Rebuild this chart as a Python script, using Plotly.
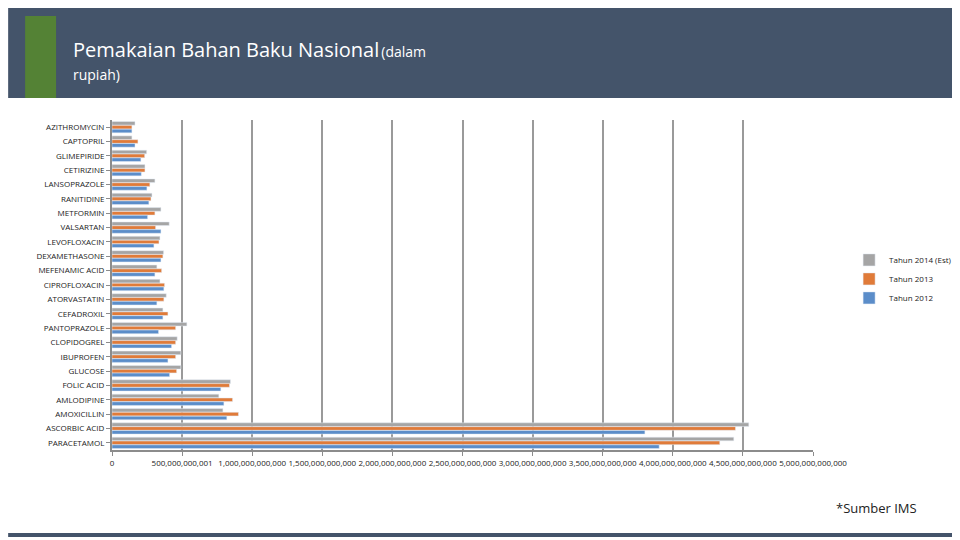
import plotly.graph_objects as go

categories = ["AZITHROMYCIN","CAPTOPRIL","GLIMEPIRIDE","CETIRIZINE","LANSOPRAZOLE","RANITIDINE",
              "METFORMIN","VALSARTAN","LEVOFLOXACIN","DEXAMETHASONE","MEFENAMIC ACID","CIPROFLOXACIN",
              "ATORVASTATIN","CEFADROXIL","PANTOPRAZOLE","CLOPIDOGREL","IBUPROFEN","GLUCOSE",
              "FOLIC ACID","AMLODIPINE","AMOXICILLIN","ASCORBIC ACID","PARACETAMOL"]
# values in billions of rupiah
tahun_2014 = [164,142,247,235,306,285,349,408,342,368,320,342,387,363,534,465,491,491,845,762,791,4542,4435]
tahun_2013 = [142,185,233,235,270,278,306,311,335,363,354,375,370,399,454,454,454,461,838,860,902,4447,4335]
tahun_2012 = [142,164,206,209,249,263,254,349,299,349,306,370,320,363,332,425,399,411,776,798,819,3801,3903]
tick_vals = [i * 5e11 for i in range(11)]
tick_text = ["0","500,000,000,001","1,000,000,000,000","1,500,000,000,000","2,000,000,000,000",
             "2,500,000,000,000","3,000,000,000,000","3,500,000,000,000","4,000,000,000,000",
             "4,500,000,000,000","5,000,000,000,000"]

L, R, T, B = 104, 154, 112, 98
fig = go.Figure()
for name, vals, col in [("Tahun 2014 (Est)", tahun_2014, "#A5A5A5"),
                        ("Tahun 2013", tahun_2013, "#E07B39"),
                        ("Tahun 2012", tahun_2012, "#5B8DC9")]:
    fig.add_trace(go.Bar(y=categories, x=[v * 1e9 for v in vals], orientation="h",
                         name=name, marker_color=col))

pw = 960 - L - R
ph = 540 - T - B
def px(x): return (x - L) / pw
def py(y): return (540 - B - y) / ph

fig.update_layout(
    width=960, height=540, barmode="group", bargap=0.2, bargroupgap=0.05,
    paper_bgcolor="white", plot_bgcolor="white",
    margin=dict(l=L, r=R, t=T, b=B),
    font=dict(family="Open Sans, Liberation Sans, sans-serif", size=8, color="#222"),
    legend=dict(x=1.05, y=0.62, xanchor="left", yanchor="top", traceorder="normal",
                font=dict(size=8), itemwidth=30, tracegroupgap=12),
    showlegend=True,
    xaxis=dict(range=[0, 5e12], tickvals=tick_vals, ticktext=tick_text, tickangle=0,
               showgrid=True, gridcolor="#9a9a9a", gridwidth=1.5, zeroline=False,
               showline=True, linecolor="#8c8c8c", linewidth=2, ticks="outside",
               tickcolor="#8c8c8c", ticklen=4, tickfont=dict(size=8)),
    yaxis=dict(autorange="reversed", showline=True, linecolor="#8c8c8c", linewidth=2,
               ticks="outside", tickcolor="#8c8c8c", ticklen=4, tickfont=dict(size=8)),
    shapes=[
        dict(type="rect", xref="paper", yref="paper", x0=px(0), x1=px(960), y0=py(90), y1=py(0),
             fillcolor="#44546A", line=dict(width=0)),
        dict(type="rect", xref="paper", yref="paper", x0=px(17), x1=px(48), y0=py(90), y1=py(8),
             fillcolor="#548235", line=dict(width=0)),
        dict(type="rect", xref="paper", yref="paper", x0=px(0), x1=px(960), y0=py(529), y1=py(525),
             fillcolor="#44546A", line=dict(width=0)),
        dict(type="rect", xref="paper", yref="paper", x0=px(0), x1=px(960), y0=py(537), y1=py(533),
             fillcolor="#E07B39", line=dict(width=0)),
    ],
)
fig.add_annotation(xref="paper", yref="paper", x=px(63), y=py(42), xanchor="left", yanchor="middle",
                   text="<span style='font-size:20px'>Pemakaian Bahan Baku Nasional</span> <span style='font-size:14px'>(dalam</span>",
                   showarrow=False, font=dict(color="white", family="Open Sans, sans-serif"))
fig.add_annotation(xref="paper", yref="paper", x=px(63), y=py(67), xanchor="left", yanchor="middle",
                   text="rupiah)", showarrow=False, font=dict(color="white", size=14, family="Open Sans, sans-serif"))
fig.add_annotation(xref="paper", yref="paper", x=px(912), y=py(500), xanchor="right", yanchor="middle",
                   text="*Sumber IMS", showarrow=False, font=dict(color="#222", size=13))
fig.write_html("out.html")
